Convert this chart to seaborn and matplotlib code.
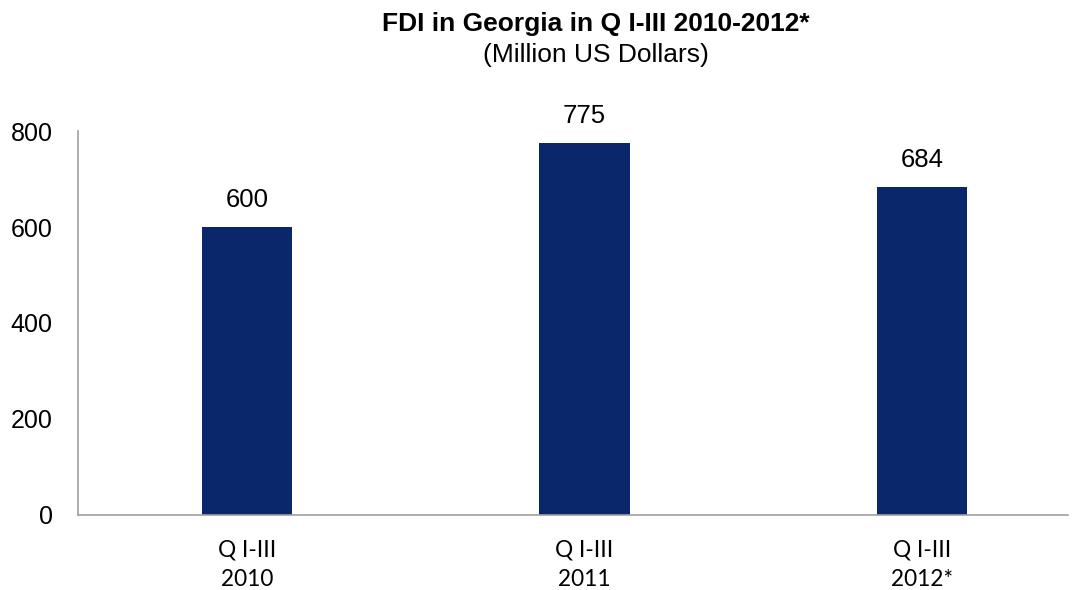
import matplotlib
matplotlib.use("Agg")
import matplotlib.pyplot as plt
from matplotlib import font_manager as fm
import seaborn as sns
import pandas as pd

categories = ["Q I-III\n2010", "Q I-III\n2011", "Q I-III\n2012*"]
values = [600, 775, 684]
yticks = [0, 200, 400, 600, 800]

sns.set_theme(style="white")
plt.rcParams['font.family'] = ['Liberation Sans', 'DejaVu Sans']

title_fp = fm.FontProperties(family=["Liberation Sans", "DejaVu Sans"], weight="bold", size=19)

df = pd.DataFrame({"cat": categories, "val": values})

fig = plt.figure(figsize=(10.78, 5.90), dpi=100)
ax = fig.add_axes([78.25/1078, 1 - 515/590, (1068 - 78.25)/1078, (515 - 131)/590])

sns.barplot(data=df, x="cat", y="val", color="#0A276C", saturation=1, width=0.267, ax=ax)
for p in ax.patches:
    p.set_edgecolor("none")

ax.set_xlim(-0.5, (1068 - 78.25) / 337.5 - 0.5)
ax.set_ylim(0, 800)
ax.set_yticks(yticks)
ax.set_yticklabels([str(t) for t in yticks], fontsize=18, color="black")
ax.tick_params(axis="y", length=0, pad=18.5)
ax.tick_params(axis="x", length=0, pad=18)
for lbl in ax.get_xticklabels():
    lbl.set_fontfamily(["Lato", "DejaVu Sans"])
    lbl.set_fontsize(16.3)
    lbl.set_color("black")
    lbl.set_linespacing(1.5)
ax.set_xlabel("")
ax.set_ylabel("")

for s in ["top", "right"]:
    ax.spines[s].set_visible(False)
for s in ["left", "bottom"]:
    ax.spines[s].set_color("#A0A0A0")
    ax.spines[s].set_linewidth(1.2)

for i, v in enumerate(values):
    ax.annotate(str(v), (i, v), xytext=(0, 27), textcoords="offset pixels",
                ha="center", va="center", fontsize=18.5, color="black")

fig.text(596/1078, 1 - 24/590, "FDI in Georgia in Q I-III 2010-2012*", ha="center", va="center",
         fontproperties=title_fp, color="black")
fig.text(596/1078, 1 - 55/590, "(Million US Dollars)", ha="center", va="center",
         fontsize=19, color="black")

fig.savefig("out.png", dpi=100)
